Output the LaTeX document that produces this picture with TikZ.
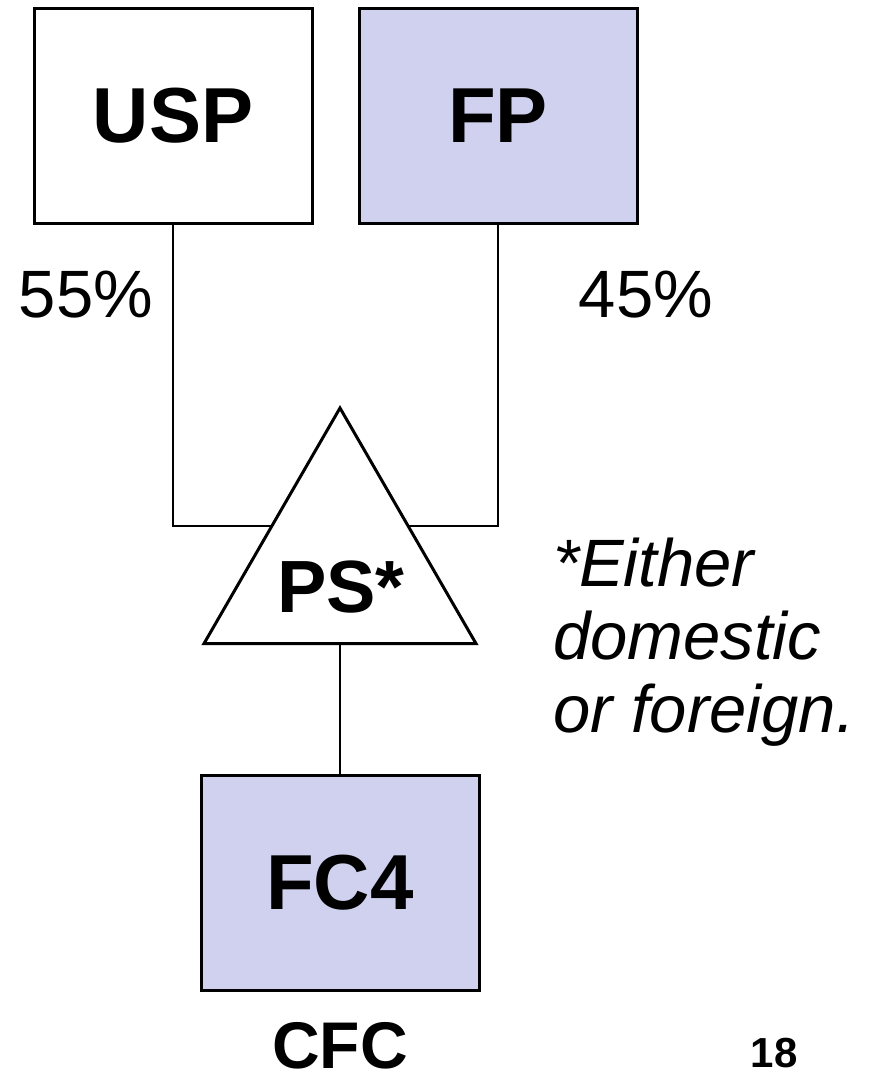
\documentclass[tikz,border=0pt]{standalone}
\usepackage{fontspec}
\setmainfont{Liberation Sans}
\usepackage{xcolor}
\usepackage{tikz}
\usetikzlibrary{positioning}
\usetikzlibrary{shapes}
\definecolor{fcblue}{RGB}{208,209,238}
\tikzstyle{entity} = [draw, line width=3pt, minimum width=278pt, minimum height=215pt, inner sep=0pt, outer sep=0pt, font=\fontsize{78}{80}\selectfont\bfseries]
\tikzstyle{link} = [draw, line width=2pt]

\begin{document}
\begin{tikzpicture}[x=1pt, y=-1pt]
	\useasboundingbox (0, 0) rectangle (869, 1081);
	\node[entity] (usp) at (173, 116) {USP};
	\node[entity, fill=fcblue] (fp) at (498, 116) {FP};
	\node[entity, fill=fcblue] (fc4) at (340, 883) {FC4};
	
	\node[draw, line width=3pt, fill=white, regular polygon, regular polygon sides=3, minimum size=314pt, inner sep=0pt, outer sep=0pt] (ps) at (340, 565) {};
	\node[font=\fontsize{74}{76}\selectfont\bfseries] (pstext) at (341, 587) {PS*};
	
	\path[link] (usp.south) |- (ps.side 1);
	\path[link] (fp.south) |- (ps.side 3);
	\path[link] (ps.side 2) -- (fc4.north);
	
	\node[font=\fontsize{67}{70}\selectfont] (share1) at (86, 295) {55\%};
	\node[font=\fontsize{67}{70}\selectfont] (share2) at (646, 295) {45\%};
	\node[align=left, anchor=west, inner sep=0pt, font=\fontsize{67}{73}\selectfont\itshape] (note) at (553, 642) {*Either\\domestic\\or foreign.};
	
	\node[inner sep=0pt, font=\fontsize{66}{70}\selectfont\bfseries] (cfc) at (340, 1046) {CFC};
	\node[inner sep=0pt, font=\fontsize{42}{44}\selectfont\bfseries] (page) at (774, 1053) {18};
\end{tikzpicture}
\end{document}
